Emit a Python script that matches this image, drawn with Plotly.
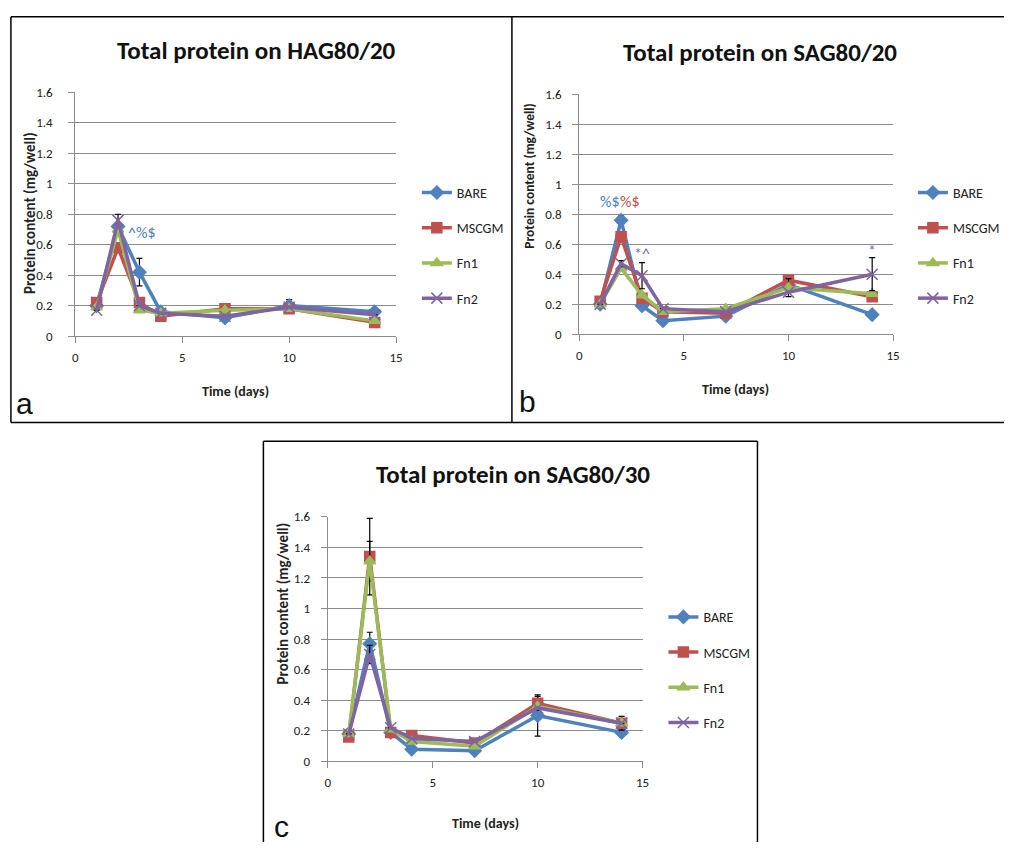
import plotly.graph_objects as go

# ---------------- data ----------------
days = [1, 2, 3, 4, 7, 10, 14]
series_names = ["BARE", "MSCGM", "Fn1", "Fn2"]

# Panel a: HAG80/20
a_bare = [0.20, 0.72, 0.42, 0.16, 0.12, 0.20, 0.16]
a_mscgm = [0.22, 0.58, 0.22, 0.13, 0.18, 0.18, 0.09]
a_fn1 = [0.19, 0.70, 0.17, 0.15, 0.17, 0.18, 0.10]
a_fn2 = [0.17, 0.76, 0.20, 0.15, 0.13, 0.19, 0.14]
a_bare_err = [None, None, 0.09, None, None, 0.04, 0.02]
a_mscgm_err = [None, None, None, None, None, None, None]
a_fn1_err = [None, None, None, None, None, None, None]
a_fn2_err = [None, 0.04, None, None, None, None, None]

# Panel b: SAG80/20
b_bare = [0.20, 0.76, 0.19, 0.09, 0.12, 0.33, 0.13]
b_mscgm = [0.22, 0.65, 0.24, 0.15, 0.14, 0.36, 0.25]
b_fn1 = [0.20, 0.44, 0.26, 0.15, 0.17, 0.31, 0.27]
b_fn2 = [0.20, 0.47, 0.39, 0.17, 0.15, 0.28, 0.40]
b_bare_err = [None, 0.03, None, None, None, None, None]
b_mscgm_err = [None, 0.03, None, None, None, 0.03, 0.03]
b_fn1_err = [None, None, None, None, None, 0.06, None]
b_fn2_err = [None, 0.02, 0.087, None, None, None, 0.11]

# Panel c: SAG80/30
c_bare = [0.18, 0.77, 0.19, 0.08, 0.07, 0.30, 0.19]
c_mscgm = [0.16, 1.34, 0.19, 0.17, 0.12, 0.38, 0.25]
c_fn1 = [0.18, 1.31, 0.21, 0.13, 0.10, 0.36, 0.25]
c_fn2 = [0.18, 0.70, 0.22, 0.15, 0.13, 0.35, 0.25]
c_bare_err = [0.03, 0.075, None, None, None, 0.135, None]
c_mscgm_err = [None, 0.25, None, None, None, 0.045, 0.045]
c_fn1_err = [None, 0.13, None, None, None, None, None]
c_fn2_err = [None, 0.06, None, None, None, None, None]

titles = ["Total protein on HAG80/20", "Total protein on SAG80/20", "Total protein on SAG80/30"]
panel_letters = ["a", "b", "c"]
x_title = "Time (days)"
y_title = "Protein content (mg/well)"

# significance markers: (panel, text, x, y, series index for colour)
sig_marks = [
    (0, "^%$", 3.1, 0.68, 0),
    (1, "%$", 1.45, 0.885, 0),
    (1, "%$", 2.42, 0.885, 1),
    (1, "*^", 2.98, 0.54, 3),
    (1, "*", 14.0, 0.56, 3),
]

# ---------------- style ----------------
W, H = 1011, 850
def px(x):
    return x / W
def py(y):
    return 1 - y / H

colors = ["#4F81BD", "#C0504D", "#9BBB59", "#8064A2"]
symbols = ["diamond", "square", "triangle-up", "x-thin"]
msizes = [10, 10, 10, 11]
FONT = "Carlito, Calibri, Lato, sans-serif"
GRID = "#8c8c8c"

panels = [
    dict(data=[a_bare, a_mscgm, a_fn1, a_fn2], err=[a_bare_err, a_mscgm_err, a_fn1_err, a_fn2_err],
         xd=(73, 397), yd=(335, 87), title_xy=(256, 44), xt_xy=(235, 391), yt_xy=(28, 210), yt_size=15,
         ystand=13, letter_xy=(22, 404), leg_xy=(418, 173)),
    dict(data=[b_bare, b_mscgm, b_fn1, b_fn2], err=[b_bare_err, b_mscgm_err, b_fn1_err, b_fn2_err],
         xd=(582, 899), yd=(333, 89), title_xy=(765, 46), xt_xy=(740, 389), yt_xy=(532, 172), yt_size=13.5,
         ystand=8, letter_xy=(530, 402), leg_xy=(919, 173)),
    dict(data=[c_bare, c_mscgm, c_fn1, c_fn2], err=[c_bare_err, c_mscgm_err, c_fn1_err, c_fn2_err],
         xd=(328, 646), yd=(768, 519), title_xy=(515, 476), xt_xy=(487, 831), yt_xy=(283, 607), yt_size=15,
         ystand=8, letter_xy=(281, 834), leg_xy=(667, 605)),
]

fig = go.Figure()
layout = dict(
    width=W, height=H, margin=dict(l=0, r=0, t=0, b=0),
    paper_bgcolor="white", plot_bgcolor="white",
    font=dict(family=FONT, size=12, color="#222"),
    annotations=[], shapes=[],
)

for p_i, p in enumerate(panels):
    suffix = "" if p_i == 0 else str(p_i + 1)
    xa, ya = "x" + suffix, "y" + suffix
    leg = "legend" if p_i == 0 else "legend" + str(p_i + 1)
    for s_i, name in enumerate(series_names):
        err = p["err"][s_i]
        fig.add_trace(go.Scatter(
            x=days, y=p["data"][s_i], name=name, mode="lines+markers",
            xaxis=xa, yaxis=ya, legend=leg, legendgroup=f"{p_i}-{s_i}",
            line=dict(color=colors[s_i], width=3.5),
            marker=dict(symbol=symbols[s_i], size=msizes[s_i], color=colors[s_i],
                        line=dict(color=colors[s_i], width=1.5)),
            error_y=dict(type="data", array=err, visible=True, color="black", thickness=1.2, width=3),
        ))
    layout["xaxis" + suffix] = dict(
        domain=[px(p["xd"][0]), px(p["xd"][1])], anchor=ya, range=[0, 15],
        tickvals=[0, 5, 10, 15], showgrid=False, zeroline=False,
        showline=True, linecolor=GRID, linewidth=1, ticks="outside", ticklen=6, tickcolor=GRID,
        tickfont=dict(size=13, color="#222"), ticklabelstandoff=3,
    )
    layout["yaxis" + suffix] = dict(
        domain=[py(p["yd"][0]), py(p["yd"][1])], anchor=xa, range=[0, 1.6],
        dtick=0.2, showgrid=True, gridcolor=GRID, gridwidth=1, zeroline=False,
        showline=True, linecolor=GRID, linewidth=1, ticks="outside", ticklen=6, tickcolor=GRID,
        tickfont=dict(size=13, color="#222"), ticklabelstandoff=p["ystand"],
    )
    layout[leg] = dict(
        x=px(p["leg_xy"][0]), y=py(p["leg_xy"][1]), xanchor="left", yanchor="top",
        bgcolor="rgba(0,0,0,0)", font=dict(size=14, family=FONT, color="#222"),
        tracegroupgap=14, itemwidth=30,
    )
    layout["annotations"] += [
        dict(text=f"<b>{titles[p_i]}</b>", x=px(p["title_xy"][0]), y=py(p["title_xy"][1]),
             xanchor="center", yanchor="middle",
             xref="paper", yref="paper", showarrow=False, font=dict(size=25, family=FONT, color="#111")),
        dict(text=f"<b>{x_title}</b>", x=px(p["xt_xy"][0]), y=py(p["xt_xy"][1]),
             xanchor="center", yanchor="middle",
             xref="paper", yref="paper", showarrow=False, font=dict(size=14, family=FONT, color="#222")),
        dict(text=f"<b>{y_title}</b>", x=px(p["yt_xy"][0]), y=py(p["yt_xy"][1]), textangle=-90,
             xanchor="center", yanchor="middle",
             xref="paper", yref="paper", showarrow=False, font=dict(size=p["yt_size"], family=FONT, color="#222")),
        dict(text=panel_letters[p_i], x=px(p["letter_xy"][0]), y=py(p["letter_xy"][1]),
             xanchor="center", yanchor="middle",
             xref="paper", yref="paper", showarrow=False,
             font=dict(size=30, family="Liberation Sans, Arial, sans-serif", color="#111")),
    ]

for (p_i, txt, sx, sy, c_i) in sig_marks:
    suffix = "" if p_i == 0 else str(p_i + 1)
    layout["annotations"].append(dict(
        text=txt, x=sx, y=sy, xref="x" + suffix, yref="y" + suffix, showarrow=False,
        xanchor="center", yanchor="middle",
        font=dict(size=16, family=FONT, color=colors[c_i])))

# panel frames
frame = dict(type="line", xref="paper", yref="paper", line=dict(color="black", width=1.5))
for (x0, y0, x1, y1) in [(8, 10, 1011, 10), (8, 423, 1011, 423), (8, 10, 8, 423), (514, 10, 514, 423),
                         (263, 442, 762, 442), (263, 442, 263, 850), (762, 442, 762, 850)]:
    s = dict(frame)
    s.update(x0=px(x0), y0=py(y0), x1=px(x1), y1=py(y1))
    layout["shapes"].append(s)

fig.update_layout(**layout)
fig.write_html("out.html", config={"displayModeBar": False},
               post_script="document.body.style.margin='0';document.body.style.overflow='hidden';")
